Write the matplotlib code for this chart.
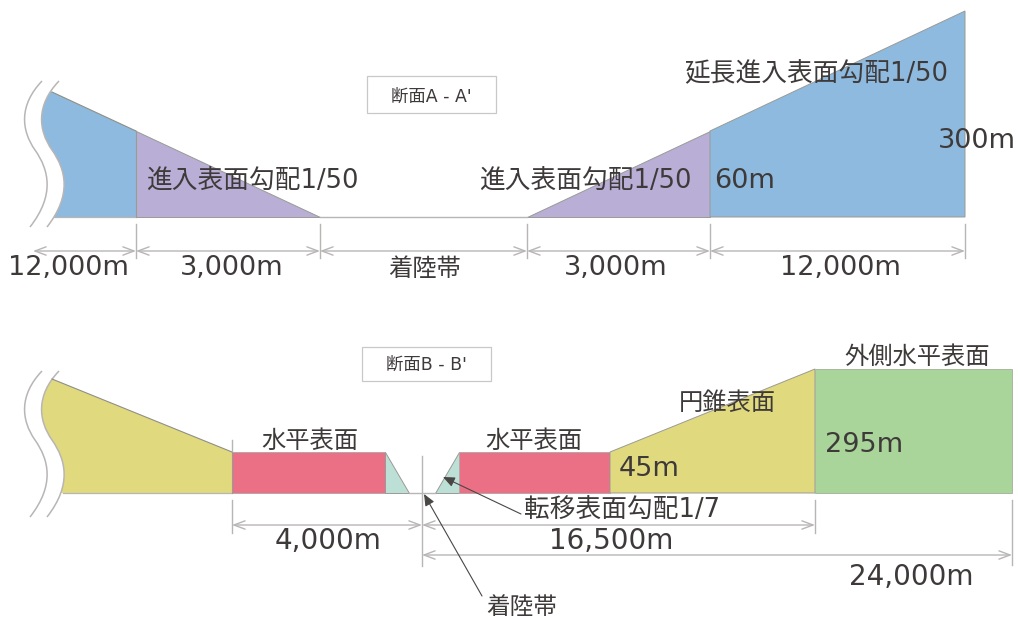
import matplotlib
matplotlib.use('Agg')
import matplotlib.pyplot as plt
from matplotlib.path import Path
from matplotlib.patches import PathPatch, Polygon, Rectangle

plt.rcParams['font.family'] = ['DejaVu Sans', 'Noto Sans CJK JP']

# everything is in image pixels, the diagram has no real scale
# section A
a_base = 217
a_knee = 131
a_top = 11
a_x = [52, 136, 320, 527, 710, 965]
a_start_top = 92
a_start_base = 54
# section B
b_base = 493
b_flat = 452
b_top = 369
b_x = [52, 232, 385, 409, 422, 435, 459, 610, 815, 1012]
b_start_top = 379
b_start_base = 63

# S-shaped break line, section A position; section B is the same curve lower down
wave = [(59, 81), (36, 105), (38, 130), (52, 150), (66, 170), (72, 195), (47, 227)]
wave_shift_b = 290
wave_gap = 17

blue = '#8dbade'
purple = '#b9aed6'
yellow = '#e0d97e'
pink = '#eb6f85'
teal = '#bde0d6'
green = '#a9d49a'
grey = '#b8b5b5'
ink = '#3f3a3a'

# dimension lines: x0, x1, y
dims_a = [(33, 136, 251), (136, 320, 251), (320, 527, 251), (527, 710, 251), (710, 965, 251)]
dims_b = [(232, 422, 525), (422, 815, 525), (422, 1012, 555)]
# extension ticks: x, y0, y1
ext_lines = [(136, 224, 258), (320, 224, 258), (527, 224, 258), (710, 224, 258), (965, 224, 258),
             (232, 440, 451), (232, 500, 533), (815, 500, 533), (1012, 500, 565), (422, 456, 566)]

labels = [
    ('12,000m', 68, 267, 19.5), ('3,000m', 232, 267, 19.5), ('着陸帯', 425, 267, 17.5),
    ('3,000m', 616, 267, 19.5), ('12,000m', 840, 267, 19.5),
    ('進入表面勾配1/50', 252, 180, 18.5), ('進入表面勾配1/50', 585, 180, 18.5),
    ('延長進入表面勾配1/50', 816, 73, 18.5), ('60m', 745, 180, 19.5), ('300m', 977, 139, 19.5),
    ('水平表面', 310, 439, 17.5), ('水平表面', 534, 439, 17.5), ('円錐表面', 727, 401, 17.5),
    ('外側水平表面', 917, 355, 17.5), ('45m', 649, 468, 19.5), ('295m', 864, 444, 19.5),
    ('転移表面勾配1/7', 622, 509, 18.5), ('4,000m', 328, 539, 20), ('16,500m', 611, 540, 20),
    ('24,000m', 911, 575, 20), ('着陸帯', 522, 606, 17),
]

fig = plt.figure(figsize=(10.18, 6.23), dpi=100)
ax = fig.add_axes([0, 0, 1, 1])
ax.set_xlim(0, 1018)
ax.set_ylim(623, 0)
ax.axis('off')

wave_codes = [Path.MOVETO] + [Path.CURVE4] * 6


def wavy_shape(shift, x0, x_base, top_y, base, knee_x, knee_y, color):
    # fill out from the wave to the knee, then clip to the slope and base line
    pts = [(x, y + shift) for x, y in wave]
    verts = pts + [(knee_x, pts[-1][1]), (knee_x, pts[0][1]), pts[0]]
    codes = wave_codes + [Path.LINETO, Path.LINETO, Path.CLOSEPOLY]
    patch = PathPatch(Path(verts, codes), facecolor=color, edgecolor='none')
    ax.add_patch(patch)
    slope = (knee_y - top_y) / (knee_x - x0)
    clip = Polygon([(0, top_y - slope * x0), (knee_x, knee_y), (knee_x, base), (0, base)],
                   closed=True, transform=ax.transData)
    patch.set_clip_path(clip)
    # outline: wave, slope, base
    ax.add_patch(PathPatch(Path(pts, wave_codes), facecolor='none', edgecolor=grey, lw=1.1))
    ax.plot([x0, knee_x], [top_y, knee_y], color='#8f8f86', lw=0.8)
    ax.plot([x_base, knee_x], [base, base], color=grey, lw=0.9)
    ax.plot([knee_x, knee_x], [knee_y, base], color='#9a9a96', lw=0.8)
    # second line of the break, to the left
    left = [(x - wave_gap, y + shift) for x, y in wave]
    ax.add_patch(PathPatch(Path(left, wave_codes), facecolor='none', edgecolor=grey, lw=1.1))


def poly(pts, color):
    ax.add_patch(Polygon(pts, closed=True, facecolor=color, edgecolor='#9a9a96', lw=0.7))


def dim(x0, x1, y):
    ax.annotate('', xy=(x1, y), xytext=(x0, y),
                arrowprops=dict(arrowstyle='<->,head_length=0.8,head_width=0.3', color=grey, lw=1.0,
                                shrinkA=0, shrinkB=0))


def leader(tip, tail):
    ax.annotate('', xy=tip, xytext=tail,
                arrowprops=dict(arrowstyle='-|>,head_length=0.7,head_width=0.3', color='#4a4646', lw=0.8,
                                shrinkA=0, shrinkB=0))


# section A
wavy_shape(0, a_x[0], a_start_base, a_start_top, a_base, a_x[1], a_knee, blue)
poly([(a_x[1], a_knee), (a_x[1], a_base), (a_x[2], a_base)], purple)
ax.plot([a_x[2], a_x[3]], [a_base, a_base], color=grey, lw=1)
poly([(a_x[3], a_base), (a_x[4], a_base), (a_x[4], a_knee)], purple)
poly([(a_x[4], a_base), (a_x[5], a_base), (a_x[5], a_top), (a_x[4], a_knee)], blue)

# section B
wavy_shape(wave_shift_b, b_x[0], b_start_base, b_start_top, b_base, b_x[1], b_flat, yellow)
ax.add_patch(Rectangle((b_x[1], b_flat), b_x[2] - b_x[1], b_base - b_flat, facecolor=pink, edgecolor='#b5a8a8', lw=0.7))
poly([(b_x[2], b_flat), (b_x[2], b_base), (b_x[3], b_base)], teal)
ax.plot([b_x[3], b_x[5]], [b_base, b_base], color=grey, lw=1)
poly([(b_x[5], b_base), (b_x[6], b_base), (b_x[6], b_flat)], teal)
ax.add_patch(Rectangle((b_x[6], b_flat), b_x[7] - b_x[6], b_base - b_flat, facecolor=pink, edgecolor='#b5a8a8', lw=0.7))
poly([(b_x[7], b_base), (b_x[8], b_base), (b_x[8], b_top), (b_x[7], b_flat)], yellow)
ax.add_patch(Rectangle((b_x[8], b_top), b_x[9] - b_x[8], b_base - b_top, facecolor=green, edgecolor='#a8b8a0', lw=0.7))

for x, y0, y1 in ext_lines:
    ax.plot([x, x], [y0, y1], color=grey, lw=1)
for x0, x1, y in dims_a + dims_b:
    dim(x0, x1, y)

leader((443, 477), (521, 514))
leader((424, 494), (482, 596))

# section name boxes
ax.add_patch(Rectangle((367, 76), 129, 37, facecolor='white', edgecolor='#c8c8c8', lw=0.9))
ax.add_patch(Rectangle((362, 347), 129, 34, facecolor='white', edgecolor='#c8c8c8', lw=0.9))
ax.text(431, 97, "断面A - A'", fontsize=12.5, color=ink, ha='center', va='center')
ax.text(426, 365, "断面B - B'", fontsize=12.5, color=ink, ha='center', va='center')

for txt, x, y, size in labels:
    ax.text(x, y + 1.5, txt, fontsize=size, color=ink, ha='center', va='center', zorder=5)

fig.savefig('out.png', dpi=100)
